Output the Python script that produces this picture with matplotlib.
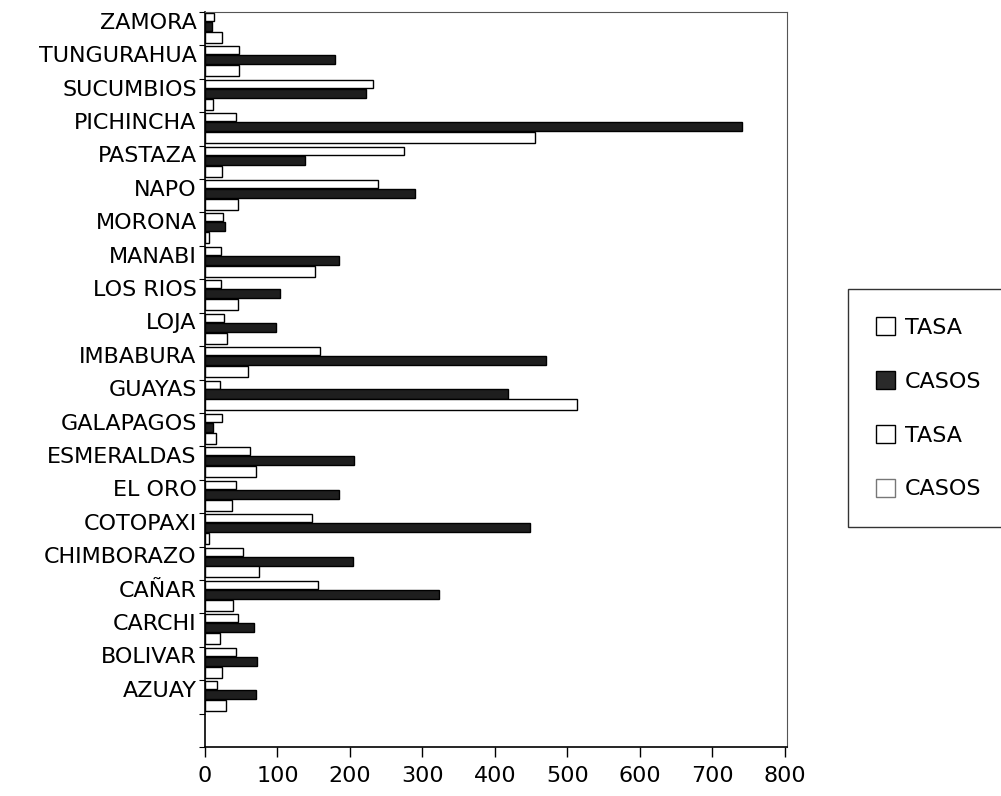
import matplotlib
matplotlib.use('Agg')
import matplotlib.pyplot as plt
from matplotlib.patches import Patch
import numpy as np

plt.rcParams['font.family'] = ['DejaVu Sans']

provinces = ['AZUAY', 'BOLIVAR', 'CARCHI', 'CAÑAR', 'CHIMBORAZO', 'COTOPAXI',
             'EL ORO', 'ESMERALDAS', 'GALAPAGOS', 'GUAYAS', 'IMBABURA', 'LOJA',
             'LOS RIOS', 'MANABI', 'MORONA', 'NAPO', 'PASTAZA', 'PICHINCHA',
             'SUCUMBIOS', 'TUNGURAHUA', 'ZAMORA']
tasa_1 = [16, 43, 45, 156, 53, 147, 43, 62, 24, 21, 158, 26, 22, 22, 25, 239,
          274, 43, 232, 47, 12]
casos_1 = [70, 72, 68, 323, 204, 448, 185, 205, 11, 418, 471, 98, 103, 185,
           28, 290, 138, 741, 222, 179, 9]
tasa_2 = [29, 24, 21, 38, 75, 5, 37, 70, 15, 513, 60, 31, 45, 152, 6, 45, 23,
          455, 11, 47, 24]
legend_labels = ['TASA', 'CASOS', 'TASA', 'CASOS']
xticks = [0, 100, 200, 300, 400, 500, 600, 700, 800]

fig = plt.figure(figsize=(10.01, 7.96), dpi=100)
ax = fig.add_axes([205 / 1001, 49 / 796, 582 / 1001, 735 / 796])

y = np.arange(1, len(provinces) + 1)
ax.barh(y + 0.35, tasa_1, height=0.24, color='white', edgecolor='black', lw=1.0)
ax.barh(y + 0.066, casos_1, height=0.27, color='#1e1e1e', edgecolor='black', lw=1.0)
ax.barh(y - 0.26, tasa_2, height=0.33, color='white', edgecolor='black', lw=1.0)

ax.set_xlim(0, 803)
ax.set_ylim(-0.5, len(provinces) + 0.5)

ax.set_xticks(xticks)
ax.set_xticklabels([str(v) for v in xticks], fontsize=16)
ax.tick_params(axis='x', length=7, width=1, pad=7, direction='out')

ax.set_yticks(np.arange(-0.5, len(provinces) + 1, 1))
ax.set_yticklabels([])
ax.tick_params(axis='y', which='major', length=4, width=0.8, direction='out')
ax.set_yticks(y + 0.24, labels=provinces, minor=True)
ax.tick_params(axis='y', which='minor', length=0, pad=6, labelsize=16)

for s in ['left', 'bottom']:
    ax.spines[s].set_linewidth(1.2)
for s in ['top', 'right']:
    ax.spines[s].set_linewidth(0.8)
    ax.spines[s].set_color('#555555')

handles = [Patch(facecolor='white', edgecolor='black'),
           Patch(facecolor='#2a2a2a', edgecolor='black'),
           Patch(facecolor='white', edgecolor='black'),
           Patch(facecolor='white', edgecolor='#777777')]
leg = fig.legend(handles, legend_labels, loc='center left',
                 bbox_to_anchor=(848 / 1001, 0.487), fontsize=16,
                 frameon=True, fancybox=False, edgecolor='black',
                 handlelength=0.85, handleheight=0.85, labelspacing=1.5,
                 borderpad=1.25, handletextpad=0.45, borderaxespad=0)
leg.get_frame().set_linewidth(1.0)

fig.savefig('out.png', dpi=100)
